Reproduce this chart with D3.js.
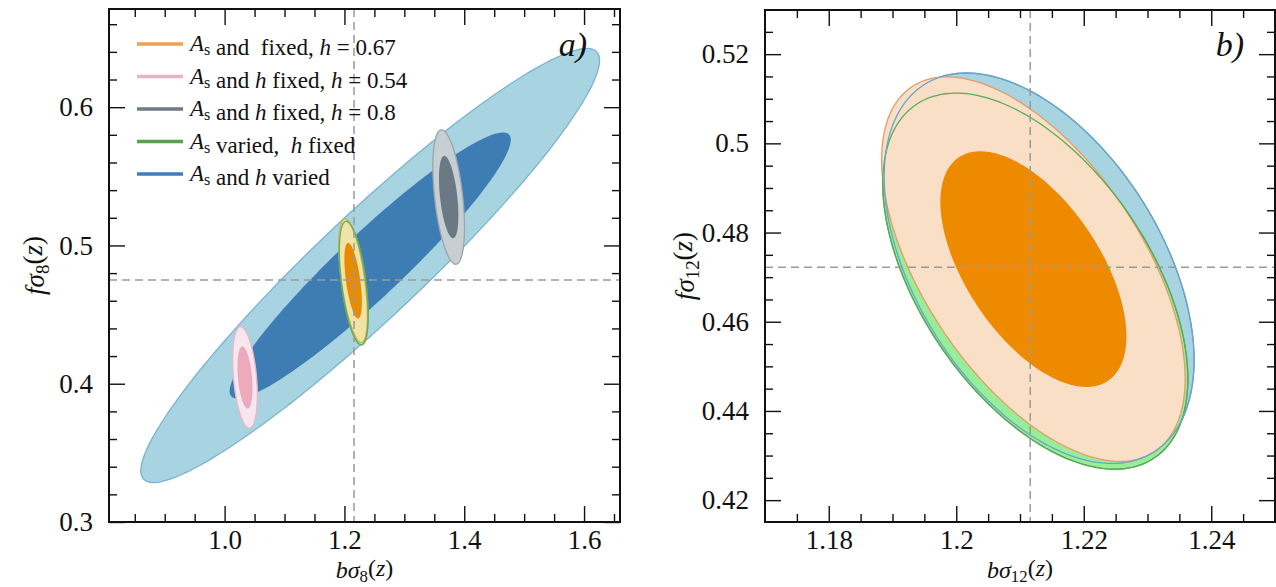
<!DOCTYPE html>
<html><head><meta charset="utf-8">
<script src="https://cdn.jsdelivr.net/npm/d3@7"></script>
<style>
body{margin:0;background:#fff}
svg text{font-family:"Liberation Serif","DejaVu Serif",serif !important;fill:#111}
</style>
</head><body>
<svg id="c" width="1276" height="587"></svg>
<script>
// ---------------- data ----------------
const xTicksA = [1.0, 1.2, 1.4, 1.6];
const xTickLabelsA = ["1.0", "1.2", "1.4", "1.6"];
const yTicksA = [0.3, 0.4, 0.5, 0.6];
const yTickLabelsA = ["0.3", "0.4", "0.5", "0.6"];
const xTicksB = [1.18, 1.20, 1.22, 1.24];
const xTickLabelsB = ["1.18", "1.2", "1.22", "1.24"];
const yTicksB = [0.42, 0.44, 0.46, 0.48, 0.50, 0.52];
const yTickLabelsB = ["0.42", "0.44", "0.46", "0.48", "0.5", "0.52"];

const fiducialA = [1.216, 0.475];
const fiducialB = [1.2116, 0.4722];

// panel a) : bσ8 – fσ8 forecasts (1σ widths, correlation)
const casesA   = ["hvaried", "Asvaried", "h067", "h054", "h08"];
const centerXA = [1.243, 1.2155, 1.2145, 1.034, 1.374];
const centerYA = [0.4855, 0.4728, 0.4745, 0.4045, 0.535];
const sigmaXA  = [0.1544, 0.0097, 0.0096, 0.0083, 0.01065];
const sigmaYA  = [0.0633, 0.0180, 0.0180, 0.0148, 0.0196];
const rhoA     = [0.945, -0.52, -0.57, -0.35, -0.45];

// panel b) : bσ12 – fσ12 forecasts
const casesB   = ["hvaried", "Asvaried", "h067"];
const centerXB = [1.2130, 1.2124, 1.2121];
const centerYB = [0.4720, 0.4691, 0.4718];
const sigmaXB  = [0.0098, 0.00965, 0.0096];
const sigmaYB  = [0.01765, 0.0170, 0.01738];
const rhoB     = [-0.47, -0.52, -0.57];

const legendCases  = ["h067", "h054", "h08", "Asvaried", "hvaried"];
const legendLabels = [
  "A_s and  fixed, h = 0.67",
  "A_s and h fixed, h = 0.54",
  "A_s and h fixed, h = 0.8",
  "A_s varied,  h fixed",
  "A_s and h varied"
];
const contourLevels = [2.48, 1.52]; // sqrt(Δχ²) for 95% and 68% (2 params)

// ---------------- styles ----------------
const FONT = '"Liberation Serif","DejaVu Serif",serif';
const styleA = {
  hvaried:  {outer: "#a8d4e2", inner: "#3e7db4", stroke: "#7cb2d2"},
  Asvaried: {outer: "#a9e6a0", inner: "#e98b00", stroke: "#62b05a"},
  h067:     {outer: "#f1e2a6", inner: "#e98b00", stroke: "#cdb048"},
  h054:     {outer: "#f8e6ee", inner: "#eeaabd", stroke: "#e9b7c9"},
  h08:      {outer: "#c8cfd3", inner: "#6b7985", stroke: "#9ba5aa"}
};
const styleB = {
  hvaried:  {outer: "#a8d4e2", inner: "#3e7db4", stroke: "#6aa4cc"},
  Asvaried: {outer: "#98ee98", inner: "#e98b00", stroke: "#5aab5a"},
  h067:     {outer: "#f8dfc6", inner: "#ee8a00", stroke: "#e39d6a"}
};
const legendColors = {h067: "#f2a150", h054: "#e8b3c6", h08: "#6e7a84", Asvaried: "#5aa14f", hvaried: "#3c7cbf"};

const svg = d3.select("#c");

function ellipsePts(cx, cy, sx, sy, rho, k) {
  return d3.range(0, 360, 2).map(d => {
    const t = d * Math.PI / 180;
    return [cx + k * sx * Math.cos(t),
            cy + k * sy * (rho * Math.cos(t) + Math.sqrt(1 - rho * rho) * Math.sin(t))];
  });
}

function mathText(sel, parts) {
  parts.forEach(p => {
    const ts = sel.append("tspan").text(p.t).style("font-family", FONT);
    if (p.it) ts.style("font-style", "italic");
    if (p.sub) ts.attr("dy", "0.25em").style("font-size", "70%");
    if (p.unsub) ts.attr("dy", "-0.25em");
  });
}

function panel(cfg) {
  const x = d3.scaleLinear().domain(cfg.xd).range([cfg.left, cfg.right]);
  const y = d3.scaleLinear().domain(cfg.yd).range([cfg.bottom, cfg.top]);
  const g = svg.append("g");
  const clipId = "clip" + cfg.id;
  svg.append("clipPath").attr("id", clipId).append("rect")
    .attr("x", cfg.left).attr("y", cfg.top)
    .attr("width", cfg.right - cfg.left).attr("height", cfg.bottom - cfg.top);
  const plot = g.append("g").attr("clip-path", `url(#${clipId})`);
  const line = d3.line().x(d => x(d[0])).y(d => y(d[1])).curve(d3.curveLinearClosed);

  cfg.order.forEach(i => {
    const st = cfg.style[cfg.cases[i]];
    contourLevels.forEach((k, j) => {
      plot.append("path")
        .attr("d", line(ellipsePts(cfg.cx[i], cfg.cy[i], cfg.sx[i], cfg.sy[i], cfg.rho[i], k)))
        .attr("fill", j === 0 ? st.outer : st.inner)
        .attr("stroke", j === 0 ? st.stroke : "none")
        .attr("stroke-width", 1.3);
    });
  });
  (cfg.outlineTop || []).forEach(i => {
    const st = cfg.style[cfg.cases[i]];
    plot.append("path")
      .attr("d", line(ellipsePts(cfg.cx[i], cfg.cy[i], cfg.sx[i], cfg.sy[i], cfg.rho[i], contourLevels[0])))
      .attr("fill", "none").attr("stroke", st.stroke).attr("stroke-width", 1.3);
  });

  plot.append("line").attr("x1", x(cfg.fid[0])).attr("x2", x(cfg.fid[0]))
    .attr("y1", cfg.top).attr("y2", cfg.bottom)
    .attr("stroke", "#9a9a9a").attr("stroke-width", 1.5).attr("stroke-dasharray", "8,5");
  plot.append("line").attr("y1", y(cfg.fid[1])).attr("y2", y(cfg.fid[1]))
    .attr("x1", cfg.left).attr("x2", cfg.right)
    .attr("stroke", "#9a9a9a").attr("stroke-width", 1.5).attr("stroke-dasharray", "8,5");

  const mk = (axisFn, scale, vals, size, labels, pad) => {
    const a = axisFn(scale).tickValues(vals).tickSize(-size).tickPadding(pad || 0);
    a.tickFormat(labels ? ((d, i) => labels[i]) : () => "");
    return a;
  };
  const addAxis = (a, tx, ty) => {
    const ag = g.append("g").attr("transform", `translate(${tx},${ty})`).call(a);
    ag.attr("font-family", null).attr("font-size", null);
    ag.select(".domain").remove();
    ag.selectAll("line").attr("stroke", "#111").attr("stroke-width", 1.4);
    ag.selectAll("text").style("font-size", "27px").style("font-family", FONT).attr("fill", "#111");
    return ag;
  };
  addAxis(mk(d3.axisBottom, x, cfg.xMinor, 8), 0, cfg.bottom);
  addAxis(mk(d3.axisTop, x, cfg.xMinor, 8), 0, cfg.top);
  addAxis(mk(d3.axisLeft, y, cfg.yMinor, 8), cfg.left, 0);
  addAxis(mk(d3.axisRight, y, cfg.yMinor, 8), cfg.right, 0);
  addAxis(mk(d3.axisBottom, x, cfg.xTicks, 16, cfg.xLabels, 8), 0, cfg.bottom);
  addAxis(mk(d3.axisTop, x, cfg.xTicks, 16), 0, cfg.top);
  addAxis(mk(d3.axisLeft, y, cfg.yTicks, 16, cfg.yLabels, 16), cfg.left, 0);
  addAxis(mk(d3.axisRight, y, cfg.yTicks, 16), cfg.right, 0);

  g.append("rect").attr("x", cfg.left).attr("y", cfg.top)
    .attr("width", cfg.right - cfg.left).attr("height", cfg.bottom - cfg.top)
    .attr("fill", "none").attr("stroke", "#111").attr("stroke-width", 2);

  const xl = g.append("text").attr("x", (cfg.left + cfg.right) / 2).attr("y", 578)
    .attr("text-anchor", "middle").style("font-size", "24px").style("font-family", FONT);
  mathText(xl, cfg.xTitle);
  const yl = g.append("text")
    .attr("transform", `translate(${cfg.yTitleX},${(cfg.top + cfg.bottom) / 2}) rotate(-90)`)
    .attr("text-anchor", "middle").style("font-size", "27px").style("font-family", FONT);
  mathText(yl, cfg.yTitle);

  g.append("text").attr("x", cfg.tagX).attr("y", 56).attr("text-anchor", "middle")
    .style("font-size", "34px").style("font-style", "italic").style("font-family", FONT).text(cfg.tag);
  return {g, x, y};
}

const A = panel({
  id: "A", left: 109, right: 620, top: 9, bottom: 522,
  xd: [0.807, 1.66], yd: [0.3, 0.671],
  xTicks: xTicksA, xLabels: xTickLabelsA, yTicks: yTicksA, yLabels: yTickLabelsA,
  xMinor: d3.range(0.85, 1.66, 0.05).filter(v => Math.abs(v * 5 - Math.round(v * 5)) > 1e-6),
  yMinor: d3.range(0.32, 0.67, 0.02).filter(v => Math.abs(v * 10 - Math.round(v * 10)) > 1e-6),
  fid: fiducialA,
  cases: casesA, cx: centerXA, cy: centerYA, sx: sigmaXA, sy: sigmaYA, rho: rhoA,
  style: styleA, order: [0, 1, 2, 3, 4], outlineTop: [1],
  xTitle: [{t: "b", it: 1}, {t: "σ", it: 1}, {t: "8", sub: 1}, {t: "(", unsub: 1}, {t: "z", it: 1}, {t: ")"}],
  yTitle: [{t: "f", it: 1}, {t: "σ", it: 1}, {t: "8", sub: 1}, {t: "(", unsub: 1}, {t: "z", it: 1}, {t: ")"}],
  yTitleX: 44, tag: "a)", tagX: 573
});

const B = panel({
  id: "B", left: 765, right: 1275, top: 10, bottom: 522,
  xd: [1.17, 1.25], yd: [0.4151, 0.5299],
  xTicks: xTicksB, xLabels: xTickLabelsB, yTicks: yTicksB, yLabels: yTickLabelsB,
  xMinor: d3.range(1.175, 1.25, 0.005).filter(v => Math.abs(v * 50 - Math.round(v * 50)) > 1e-6),
  yMinor: d3.range(0.42, 0.5299, 0.005).filter(v => Math.abs(v * 50 - Math.round(v * 50)) > 1e-6),
  fid: fiducialB,
  cases: casesB, cx: centerXB, cy: centerYB, sx: sigmaXB, sy: sigmaYB, rho: rhoB,
  style: styleB, order: [0, 1, 2], outlineTop: [1, 0],
  xTitle: [{t: "b", it: 1}, {t: "σ", it: 1}, {t: "12", sub: 1}, {t: "(", unsub: 1}, {t: "z", it: 1}, {t: ")"}],
  yTitle: [{t: "f", it: 1}, {t: "σ", it: 1}, {t: "12", sub: 1}, {t: "(", unsub: 1}, {t: "z", it: 1}, {t: ")"}],
  yTitleX: 694, tag: "b)", tagX: 1230
});

// legend (panel a)
const lg = A.g.append("g");
legendLabels.forEach((lab, i) => {
  const yy = 44 + i * 32.5;
  lg.append("line").attr("x1", 137).attr("x2", 183).attr("y1", yy).attr("y2", yy)
    .attr("stroke", legendColors[legendCases[i]]).attr("stroke-width", 3.5);
  const t = lg.append("text").attr("x", 190).attr("y", yy + 7).style("font-size", "23px")
    .style("font-family", FONT).style("white-space", "pre");
  const tokens = lab.split(/(A_s|\bh\b)/).filter(s => s.length);
  tokens.forEach(tok => {
    if (tok === "A_s") {
      t.append("tspan").style("font-style", "italic").text("A");
      t.append("tspan").attr("dy", "0.25em").style("font-size", "70%").text("s");
      t.append("tspan").attr("dy", "-0.25em").text("");
    } else if (tok === "h") {
      t.append("tspan").style("font-style", "italic").text("h");
    } else {
      t.append("tspan").text(tok);
    }
  });
});
</script>
</body></html>
